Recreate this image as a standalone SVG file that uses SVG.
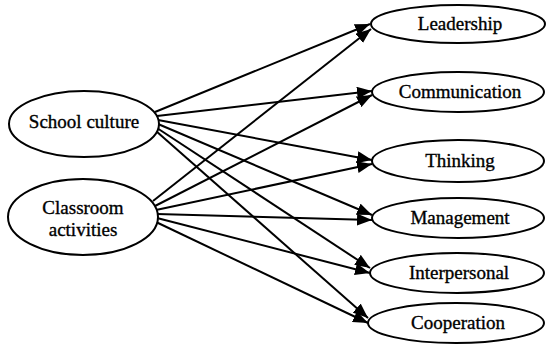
<svg xmlns="http://www.w3.org/2000/svg" width="547" height="347" viewBox="0 0 547 347">
<defs>
<style>
.node ellipse{fill:#fff;stroke:#000;stroke-width:2}
.node text{font-family:"Liberation Serif","Times New Roman",Tinos,"DejaVu Serif",serif;font-size:19px;fill:#000;stroke:#000;stroke-width:0.35;text-anchor:middle}
.edges line{stroke:#000;stroke-width:2;fill:none;marker-end:url(#arr)}
</style>
<marker id="arr" markerUnits="userSpaceOnUse" viewBox="0 0 15 12" refX="15" refY="6" markerWidth="15" markerHeight="12" orient="auto">
<path d="M0,0 L15,6 L0,12 z" fill="#000"/>
</marker>
</defs>
<rect width="547" height="347" fill="#fff"/>
<g class="edges" id="connectors">
<line x1="155" y1="112" x2="370" y2="24"/>
<line x1="157" y1="116" x2="372" y2="91"/>
<line x1="158" y1="120" x2="372" y2="160"/>
<line x1="158" y1="124" x2="372" y2="215"/>
<line x1="157" y1="128" x2="370" y2="268"/>
<line x1="156" y1="131" x2="368" y2="318"/>
<line x1="153" y1="201" x2="371" y2="29"/>
<line x1="155" y1="206" x2="372" y2="95"/>
<line x1="156" y1="210" x2="372" y2="164"/>
<line x1="157" y1="214" x2="372" y2="220"/>
<line x1="157" y1="218" x2="370" y2="273"/>
<line x1="156" y1="222" x2="368" y2="323"/>
</g>
<g class="node" id="school-culture">
<ellipse cx="84" cy="124" rx="75" ry="33"/>
<text x="84" y="128">School culture</text>
</g>
<g class="node" id="classroom-activities">
<ellipse cx="83" cy="217" rx="75" ry="38"/>
<text x="83" y="214">Classroom</text>
<text x="83" y="236">activities</text>
</g>
<g class="node" id="leadership">
<ellipse cx="458" cy="24" rx="87" ry="19"/>
<text x="460" y="30">Leadership</text>
</g>
<g class="node" id="communication">
<ellipse cx="458" cy="92" rx="86" ry="20"/>
<text x="460" y="98">Communication</text>
</g>
<g class="node" id="thinking">
<ellipse cx="458" cy="161" rx="86" ry="21"/>
<text x="460" y="167">Thinking</text>
</g>
<g class="node" id="management">
<ellipse cx="458" cy="218" rx="86" ry="20"/>
<text x="460" y="224">Management</text>
</g>
<g class="node" id="interpersonal">
<ellipse cx="457" cy="273" rx="87" ry="20"/>
<text x="459" y="279">Interpersonal</text>
</g>
<g class="node" id="cooperation">
<ellipse cx="456" cy="323" rx="88" ry="20"/>
<text x="458" y="329">Cooperation</text>
</g>
</svg>
